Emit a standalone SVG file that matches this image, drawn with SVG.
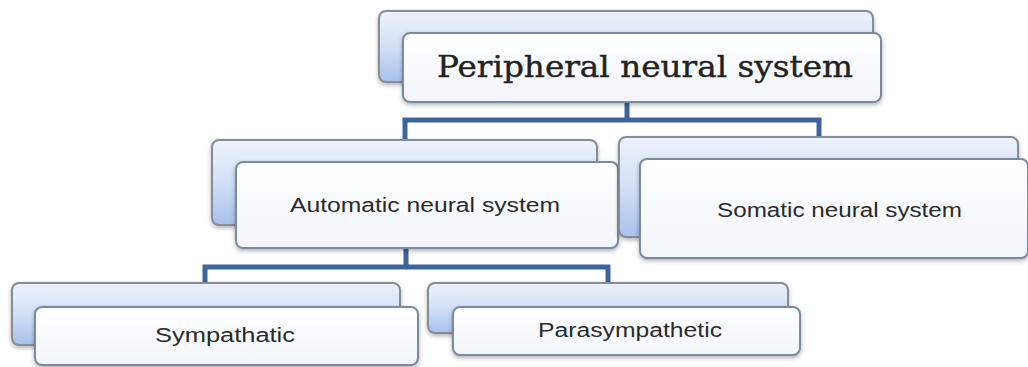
<svg xmlns="http://www.w3.org/2000/svg" width="1028" height="367" viewBox="0 0 1028 367">
<defs>
<linearGradient id="backGrad" x1="0" y1="0" x2="0" y2="1">
<stop offset="0" stop-color="#edf2fb"/>
<stop offset="0.5" stop-color="#d3e0f6"/>
<stop offset="1" stop-color="#a7c0ec"/>
</linearGradient>
<linearGradient id="frontGrad" x1="0" y1="0" x2="0" y2="1">
<stop offset="0" stop-color="#ffffff"/>
<stop offset="1" stop-color="#f2f5fb"/>
</linearGradient>
<filter id="shadow" x="-5%" y="-10%" width="110%" height="130%">
<feDropShadow dx="0" dy="2" stdDeviation="2" flood-color="#000" flood-opacity="0.3"/>
</filter>
</defs>
<style>
.back{fill:url(#backGrad);stroke:#858d98;stroke-width:2;filter:url(#shadow)}
.front{fill:url(#frontGrad);stroke:#7a8aa3;stroke-width:2;filter:url(#shadow)}
.conn{fill:none;stroke:#3d659c;stroke-width:5;stroke-linejoin:miter}
.lbl{font-family:"Liberation Sans","DejaVu Sans",sans-serif;fill:#2a2a2a;text-anchor:start}
.title{font-family:"DejaVu Serif","Liberation Serif",serif;fill:#222222;stroke:#222222;stroke-width:0.4}
</style>
<rect width="1028" height="367" fill="#ffffff"/>
<g id="connectors">
<path class="conn" d="M627 103 V120 M405 142 V120 H819 V156"/>
<path class="conn" d="M406 248 V267 M205 284 V267 H608 V284"/>
</g>
<g id="node-peripheral">
<rect class="back" x="379" y="11" width="494" height="71" rx="7"/>
<rect class="front" x="403" y="33" width="478" height="69" rx="7"/>
<text class="title" x="437" y="77" font-size="29" textLength="416" lengthAdjust="spacingAndGlyphs">Peripheral neural system</text>
</g>
<g id="node-automatic">
<rect class="back" x="212" y="140" width="385" height="85" rx="7"/>
<rect class="front" x="236" y="162" width="382" height="86" rx="7"/>
<text class="lbl" x="290" y="212" font-size="20" textLength="270" lengthAdjust="spacingAndGlyphs">Automatic neural system</text>
</g>
<g id="node-somatic">
<rect class="back" x="619" y="137" width="399" height="100" rx="7"/>
<rect class="front" x="640" y="159" width="388" height="99" rx="7"/>
<text class="lbl" x="717" y="217" font-size="20" textLength="245" lengthAdjust="spacingAndGlyphs">Somatic neural system</text>
</g>
<g id="node-sympathatic">
<rect class="back" x="12" y="283" width="388" height="62" rx="7"/>
<rect class="front" x="35" y="307" width="383" height="58" rx="7"/>
<text class="lbl" x="155" y="342" font-size="20" textLength="140" lengthAdjust="spacingAndGlyphs">Sympathatic</text>
</g>
<g id="node-parasympathetic">
<rect class="back" x="428" y="283" width="360" height="50" rx="7"/>
<rect class="front" x="453" y="307" width="347" height="48" rx="7"/>
<text class="lbl" x="538" y="337" font-size="20" textLength="184" lengthAdjust="spacingAndGlyphs">Parasympathetic</text>
</g>
</svg>
